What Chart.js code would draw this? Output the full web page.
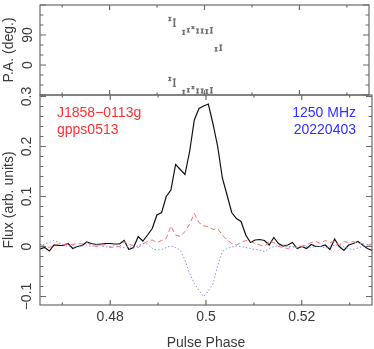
<!DOCTYPE html>
<html>
<head>
<meta charset="utf-8">
<script src="https://cdn.jsdelivr.net/npm/chart.js@4"></script>
<style>
  html, body { margin: 0; padding: 0; background: #fff; }
  #wrap { position: relative; width: 374px; height: 349px; }
  canvas { position: absolute; left: 0; top: 0; }
</style>
</head>
<body>
<div id="wrap">
  <canvas id="prof" width="374" height="349"></canvas>
  <canvas id="pa" width="374" height="100"></canvas>
</div>
<script>
// profile bins, 1024 bins per turn, first bin shown is 476
const firstBin = 476;

// total intensity, linear pol, circular pol (arb. units)
const fluxI = [-0.005, -0.002, -0.009, 0.003, 0.002, 0.002, 0.006, -0.004, 0, 0.002, 0.009, 0.006, 0.004, 0.005, 0.006, 0.006, 0.005, 0.005,
  0.012, -0.006, -0.002, 0.02, 0.011, 0.023, 0.036, 0.063, 0.068, 0.1, 0.113, 0.164, 0.154, 0.144, 0.19, 0.253, 0.276, 0.281,
  0.285, 0.245, 0.2, 0.137, 0.103, 0.068, 0.056, 0.05, 0.023, 0.008, 0.013, 0.014, 0.012, 0.003, 0.018, 0.006, 0.001, 0.003,
  0.008, -0.004, 0, -0.004, 0.004, 0, 0, 0.003, -0.006, 0.015, 0, -0.008, 0.003, 0.006, 0.01, 0.003, -0.004, -0.008];
const fluxL = [0.004, 0.001, -0.002, 0.003, 0.005, 0.004, 0.005, 0.004, 0.006, 0.005, 0.008, 0.003, 0.0, 0.002, 0.004, -0.002, -0.001, 0.0,
  0.01, 0.004, 0.002, -0.002, 0.005, 0.01, 0.013, 0.008, 0.012, 0.016, 0.041, 0.023, 0.02, 0.03, 0.045, 0.066, 0.048, 0.041,
  0.04, 0.034, 0.036, 0.023, 0.013, 0.006, 0.003, 0.008, 0.012, 0.01, 0.006, 0.003, 0.0, 0.01, 0.008, 0.0, -0.002, -0.004,
  0.0, -0.002, 0.0, 0.003, 0.008, 0.01, 0.006, 0.012, 0.008, 0.01, 0.003, 0.01, 0.008, 0.01, 0.006, 0.006, 0.003, 0.003];
const fluxV = [0.0, 0.005, 0.008, 0.012, 0.008, 0.003, 0.0, 0.002, -0.002, 0.001, 0.003, 0.0, 0.003, 0.001, -0.001, 0.0, 0.002, -0.001,
  -0.002, 0.0, -0.003, 0.002, 0.006, 0.005, -0.004, -0.007, -0.006, -0.002, 0.001, -0.002, -0.007, -0.027, -0.054, -0.074, -0.088, -0.1,
  -0.089, -0.075, -0.038, -0.01, -0.004, -0.001, 0.001, 0.0, -0.002, -0.004, -0.006, -0.007, -0.01, -0.004, 0.0, 0.001, 0.003, 0.0,
  0.0, -0.002, 0.003, 0.0, -0.002, 0.001, 0.0, -0.003, 0.0, 0.003, 0.002, -0.001, -0.004, -0.006, -0.003, 0.0, 0.004, 0.005];

// position angle points
const paPhase = [0.49268, 0.49365, 0.49561, 0.49658, 0.49756, 0.49854, 0.49951, 0.50049, 0.50146, 0.50244, 0.50342];
const paVals = [138, 127, 98, 104, 112, 102, 102, 100, 104, 47, 52];
const paErr = [5, 11, 6, 5, 3, 6, 6, 6, 8, 5, 8];

const xTicks = [0.48, 0.5, 0.52];
const xMinor = [0.47, 0.49, 0.51, 0.53];
const fluxTicks = [-0.1, 0, 0.1, 0.2, 0.3];
const fluxMinor = [-0.08, -0.06, -0.04, -0.02, 0.02, 0.04, 0.06, 0.08, 0.12, 0.14, 0.16, 0.18, 0.22, 0.24, 0.26, 0.28];
const paTicks = [0, 90];
const paMajor = [-90, 0, 90, 180];
const paMinor = [-60, -30, 30, 60, 120, 150];

const X_MIN = 0.465332, X_MAX = 0.534668;
const FONT = "'Liberation Sans', Arial, sans-serif";
const TXT = '#3a3a3a';

const phase = fluxI.map((_, i) => (firstBin + i + 0.5) / 1024);
const pts = arr => arr.map((v, i) => ({ x: phase[i], y: v }));

function fmt(v) {
  if (v === 0) return '0';
  return v < 0 ? '\u2212' + Math.abs(v) : String(v);
}

// fixed axis width, no extra label overflow padding
function fitY(s) {
  s.width = 40;
  s.paddingTop = 0;
  s.paddingBottom = 0;
}

// pgplot-like box: frame with inward ticks on all sides
const boxTicks = {
  id: 'boxTicks',
  afterDraw(chart, args, o) {
    const { ctx, chartArea: a } = chart;
    const x = chart.scales.x, y = chart.scales.y;
    ctx.save();
    ctx.strokeStyle = '#6b6b6b';
    ctx.lineWidth = 1.2;
    ctx.strokeRect(a.left, a.top, a.right - a.left, a.bottom - a.top);
    ctx.beginPath();
    const xt = (vals, len) => vals.forEach(v => {
      const p = x.getPixelForValue(v);
      ctx.moveTo(p, a.bottom); ctx.lineTo(p, a.bottom - len);
      ctx.moveTo(p, a.top); ctx.lineTo(p, a.top + len);
    });
    const yt = (vals, len) => vals.forEach(v => {
      const p = y.getPixelForValue(v);
      ctx.moveTo(a.left, p); ctx.lineTo(a.left + len, p);
      ctx.moveTo(a.right, p); ctx.lineTo(a.right - len, p);
    });
    xt(o.xMajor, 5); xt(o.xMinor, 2.5);
    yt(o.yMajor, 6); yt(o.yMinor, 3.5);
    ctx.stroke();
    ctx.restore();
  }
};

// source / observation labels inside the profile panel
const labels = {
  id: 'labels',
  afterDraw(chart) {
    const { ctx, chartArea: a } = chart;
    ctx.save();
    ctx.font = '14px ' + FONT;
    ctx.textBaseline = 'middle';
    ctx.fillStyle = '#ff3030';
    ctx.textAlign = 'left';
    ctx.fillText('J1858\u22120113g', a.left + 17, a.top + 18);
    ctx.fillText('gpps0513', a.left + 17, a.top + 35);
    ctx.fillStyle = '#3030ff';
    ctx.textAlign = 'right';
    ctx.fillText('1250 MHz', a.right - 16, a.top + 18);
    ctx.fillText('20220403', a.right - 16, a.top + 35);
    ctx.restore();
  }
};

new Chart(document.getElementById('prof'), {
  type: 'line',
  data: {
    datasets: [
      { data: pts(fluxV), borderColor: '#8c8cff', borderWidth: 1, borderDash: [1.5, 2] },
      { data: pts(fluxL), borderColor: '#ff6b6b', borderWidth: 1, borderDash: [5, 3] },
      { data: pts(fluxI), borderColor: '#111', borderWidth: 1.2 }
    ]
  },
  options: {
    responsive: false,
    animation: false,
    events: [],
    layout: { padding: { top: 95, right: 2, left: 0, bottom: 0 } },
    elements: { point: { radius: 0 }, line: { tension: 0 } },
    plugins: {
      legend: { display: false },
      tooltip: { enabled: false },
      boxTicks: { xMajor: xTicks, xMinor: xMinor, yMajor: fluxTicks, yMinor: fluxMinor }
    },
    scales: {
      x: {
        type: 'linear', min: X_MIN, max: X_MAX,
        afterBuildTicks: s => { s.ticks = xTicks.map(v => ({ value: v })); },
        afterFit: s => { s.height = 44; },
        grid: { display: false, drawTicks: false },
        border: { display: false },
        ticks: { padding: 4, maxRotation: 0, autoSkip: false, color: TXT, font: { family: FONT, size: 14 }, callback: v => fmt(v) },
        title: { display: true, text: 'Pulse Phase', color: TXT, font: { family: FONT, size: 14 }, padding: { top: 0, bottom: -2.5 } }
      },
      y: {
        min: -0.117, max: 0.303,
        afterBuildTicks: s => { s.ticks = fluxTicks.map(v => ({ value: v })); },
        afterFit: fitY,
        grid: { display: false, drawTicks: false },
        border: { display: false },
        ticks: { minRotation: 90, maxRotation: 90, crossAlign: 'center', padding: -1, autoSkip: false, color: TXT, font: { family: FONT, size: 14 }, callback: v => fmt(v) },
        title: { display: true, text: 'Flux (arb. units)', color: TXT, font: { family: FONT, size: 14 }, padding: { top: 1, bottom: 0 } }
      }
    }
  },
  plugins: [boxTicks, labels]
});

// error bars for PA, also shown shifted by -180 deg
const barData = shift => paPhase.map((x, i) => ({ x, y: [paVals[i] - paErr[i] + shift, paVals[i] + paErr[i] + shift] }));
const capData = shift => paPhase.flatMap((x, i) => [
  { x, y: paVals[i] - paErr[i] + shift },
  { x, y: paVals[i] + paErr[i] + shift }
]);
const barStyle = { backgroundColor: '#707070', borderWidth: 0, barThickness: 1, grouped: false, clip: 0 };
const capStyle = { type: 'scatter', pointStyle: 'line', pointRadius: 1.6, borderColor: '#707070', borderWidth: 1, clip: 0 };

new Chart(document.getElementById('pa'), {
  type: 'bar',
  data: {
    datasets: [
      Object.assign({ data: barData(0) }, barStyle),
      Object.assign({ data: barData(-180) }, barStyle),
      Object.assign({ data: capData(0) }, capStyle),
      Object.assign({ data: capData(-180) }, capStyle)
    ]
  },
  options: {
    responsive: false,
    animation: false,
    events: [],
    layout: { padding: { top: 1, right: 2, left: 0, bottom: 5 } },
    plugins: {
      legend: { display: false },
      tooltip: { enabled: false },
      boxTicks: { xMajor: xTicks, xMinor: xMinor, yMajor: paMajor, yMinor: paMinor }
    },
    scales: {
      x: { type: 'linear', min: X_MIN, max: X_MAX, offset: false, display: false },
      y: {
        min: -90, max: 180,
        afterBuildTicks: s => { s.ticks = paTicks.map(v => ({ value: v })); },
        afterFit: fitY,
        grid: { display: false, drawTicks: false },
        border: { display: false },
        ticks: { minRotation: 90, maxRotation: 90, crossAlign: 'center', padding: 4, autoSkip: false, color: TXT, font: { family: FONT, size: 14 }, callback: v => fmt(v) },
        title: { display: true, text: 'P.A. (deg.)', color: TXT, font: { family: FONT, size: 14 }, padding: { top: 1, bottom: 0 } }
      }
    }
  },
  plugins: [boxTicks]
});
</script>
</body>
</html>
